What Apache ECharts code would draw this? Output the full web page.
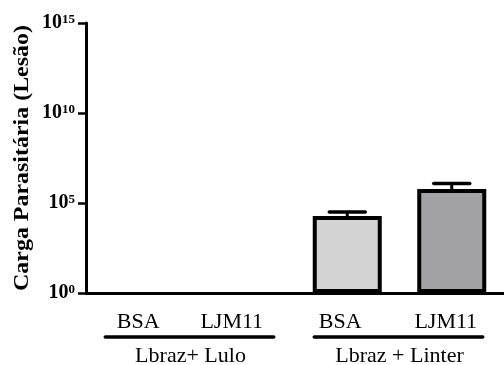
<!DOCTYPE html>
<html>
<head>
<meta charset="utf-8">
<script src="https://cdn.jsdelivr.net/npm/echarts@6/dist/echarts.min.js"></script>
<style>
  html, body { margin: 0; padding: 0; background: #fff; }
  #chart { width: 504px; height: 365px; }
</style>
</head>
<body>
<div id="chart"></div>
<script>
// Parasite load per lesion, log scale
const categories = ['BSA', 'LJM11', 'BSA', 'LJM11'];
const labelShift = [0, 11, 7, 6];
const groupNames = ['Lbraz+ Lulo', 'Lbraz + Linter'];
const groupMembers = [[0, 1], [2, 3]];
const means = [null, null, 1.9e4, 6.0e5];
const upperErr = [null, null, 3.2e4, 1.2e6];
const barColors = ['#d3d3d3', '#d3d3d3', '#d3d3d3', '#a3a2a6'];
const yTicks = [1, 1e5, 1e10, 1e15];
const yTitle = 'Carga Parasitária (Lesão)';

const serif = '"Liberation Serif", "DejaVu Serif", serif';
const chart = echarts.init(document.getElementById('chart'), null, { renderer: 'canvas' });

const option = {
  animation: false,
  backgroundColor: '#ffffff',
  grid: { left: 86, top: 23, width: 422, height: 270, containLabel: false },
  xAxis: {
    type: 'category',
    data: categories.map((c, i) => ({
      value: c,
      textStyle: { padding: [0, labelShift[i] * 2, 0, 0] }
    })),
    axisLine: { lineStyle: { color: '#000', width: 3 } },
    axisTick: { alignWithLabel: true, length: 8, lineStyle: { color: '#000', width: 2.5 } },
    axisLabel: { color: '#000', fontFamily: serif, fontSize: 22, margin: 18 }
  },
  yAxis: {
    type: 'log',
    logBase: 10,
    min: yTicks[0],
    max: yTicks[yTicks.length - 1],
    interval: 5,
    axisLine: { show: true, lineStyle: { color: '#000', width: 3 } },
    axisTick: { show: true, length: 8, lineStyle: { color: '#000', width: 2.5 } },
    splitLine: { show: false },
    axisLabel: {
      margin: 11,
      formatter: function (v) {
        const e = Math.round(Math.log10(v));
        return '{b|10}{s|' + e + '}';
      },
      rich: {
        b: { color: '#000', fontFamily: serif, fontWeight: 'bold', fontSize: 20, verticalAlign: 'middle', lineHeight: 20 },
        s: { color: '#000', fontFamily: serif, fontWeight: 'bold', fontSize: 13, verticalAlign: 'top', lineHeight: 13 }
      }
    }
  },
  series: [
    {
      type: 'bar',
      data: means.map((v, i) => v == null ? '-' : {
        value: v,
        itemStyle: { color: barColors[i] }
      }),
      barWidth: 69,
      itemStyle: { borderColor: '#000', borderWidth: 4 },
      z: 2
    },
    {
      type: 'custom',
      z: 3,
      data: means.map((v, i) => v == null ? null : [i, v, upperErr[i]]).filter(d => d),
      renderItem: function (params, api) {
        const x = api.value(0);
        const top = api.coord([x, api.value(1)]);
        const hi = api.coord([x, api.value(2)]);
        const half = 18;
        return {
          type: 'group',
          children: [
            { type: 'line', shape: { x1: top[0], y1: top[1], x2: hi[0], y2: hi[1] },
              style: { stroke: '#000', lineWidth: 3 } },
            { type: 'line', shape: { x1: hi[0] - half, y1: hi[1], x2: hi[0] + half, y2: hi[1] },
              style: { stroke: '#000', lineWidth: 3.5, lineCap: 'round' } }
          ]
        };
      }
    }
  ]
};
chart.setOption(option);

// Y-axis title and group brackets under the category labels
const gridTop = chart.convertToPixel({ yAxisIndex: 0 }, yTicks[yTicks.length - 1]);
const gridBottom = chart.convertToPixel({ yAxisIndex: 0 }, yTicks[0]);
const graphics = [{
  type: 'text',
  x: 23,
  y: (gridTop + gridBottom) / 2,
  rotation: Math.PI / 2,
  scaleX: 1.14,
  style: { text: yTitle, fill: '#000', font: 'bold 21px ' + serif, textAlign: 'center', textVerticalAlign: 'middle' }
}];
groupMembers.forEach((members, g) => {
  const xa = chart.convertToPixel({ xAxisIndex: 0 }, members[0]);
  const xb = chart.convertToPixel({ xAxisIndex: 0 }, members[1]);
  graphics.push({
    type: 'line',
    shape: { x1: xa - 33, y1: 337, x2: xb + 31, y2: 337 },
    style: { stroke: '#000', lineWidth: 3.5, lineCap: 'round' }
  });
  graphics.push({
    type: 'text',
    x: (xa + xb) / 2,
    y: 345,
    style: { text: groupNames[g], fill: '#000', font: '22px ' + serif, textAlign: 'center', textVerticalAlign: 'top' }
  });
});
chart.setOption({ graphic: graphics });
</script>
</body>
</html>
